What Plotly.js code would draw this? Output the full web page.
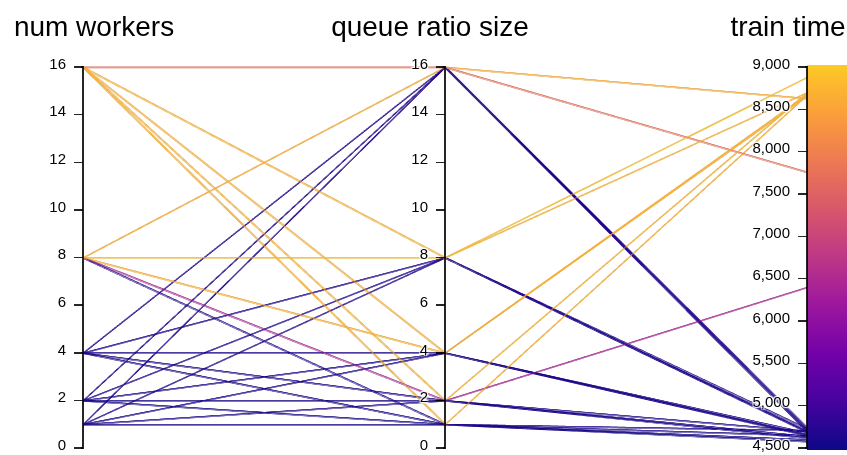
<!DOCTYPE html>
<html>
<head>
<meta charset="utf-8">
<script src="https://cdn.plot.ly/plotly-3.0.1.min.js"></script>
<style>
html, body { margin: 0; padding: 0; overflow: hidden; background: #fff; }
#chart { width: 847px; height: 455px; }
#chart .gl-canvas-focus, #chart .gl-canvas-context { filter: url(#thicken); }
</style>
</head>
<body>
<svg width="0" height="0" style="position:absolute">
  <filter id="thicken" x="0" y="0" width="100%" height="100%" color-interpolation-filters="sRGB">
    <feOffset in="SourceGraphic" dx="1" dy="0" result="a"/>
    <feOffset in="SourceGraphic" dx="0" dy="1" result="b"/>
    <feMerge>
      <feMergeNode in="a"/>
      <feMergeNode in="b"/>
      <feMergeNode in="SourceGraphic"/>
    </feMerge>
  </filter>
</svg>
<div id="chart"></div>
<script>
// data
const numWorkers = [16, 16, 16, 16, 16, 8, 8, 8, 8, 8, 4, 4, 4, 4, 4, 2, 2, 2, 2, 2, 1, 1, 1, 1, 1];
const queueRatio = [16, 8, 4, 2, 1, 16, 8, 4, 2, 1, 16, 8, 4, 2, 1, 16, 8, 4, 2, 1, 16, 8, 4, 2, 1];
const trainTime  = [7760, 8700, 8680, 8700, 8670, 8630, 8880, 8660, 6400, 4710,
                    4720, 4700, 4660, 4640, 4600, 4700, 4690, 4650, 4620, 4580,
                    4740, 4730, 4680, 4700, 4650];
const dimLabels = ['num workers', 'queue ratio size', 'train time'];

// plasma (first nine stops)
const plasmaColors = ['#0d0887', '#46039f', '#7201a8', '#9c179e', '#bd3786',
                      '#d8576b', '#ed7953', '#fb9f3a', '#fdca26'];
const colorscale = plasmaColors.map((c, i) => [i / (plasmaColors.length - 1), c]);

const fontFam = 'Liberation Sans, Arial, sans-serif';

const trace = {
  type: 'parcoords',
  line: {
    color: trainTime,
    colorscale: colorscale,
    cmin: 4500,
    cmax: 9000,
    showscale: true,
    colorbar: {
      x: 1, xanchor: 'left', xpad: 0,
      y: 0.5, yanchor: 'middle', ypad: 0,
      len: 1, thickness: 60, outlinewidth: 0,
      tickfont: {size: 15, color: '#000'}
    }
  },
  dimensions: [
    {label: dimLabels[0], values: numWorkers, range: [0, 16]},
    {label: dimLabels[1], values: queueRatio, range: [0, 16]},
    {label: dimLabels[2], values: trainTime, range: [4500, 9000], tickformat: ','}
  ],
  labelfont: {size: 28, color: '#000', family: fontFam},
  tickfont: {size: 15, color: '#000', family: fontFam},
  rangefont: {size: 1, color: 'rgba(0,0,0,0)'}
};

const layout = {
  width: 847,
  height: 455,
  margin: {l: 83, r: 40, t: 65, b: 5, autoexpand: false},
  paper_bgcolor: '#fff',
  plot_bgcolor: '#fff',
  font: {family: fontFam, color: '#000'}
};

// horizontal nudges of the axis titles, as in the reference
const titleShift = {'num workers': 11, 'queue ratio size': -15, 'train time': -19};

function styleAxes() {
  const gd = document.getElementById('chart');
  gd.querySelectorAll('.axis .domain').forEach(p => {
    p.setAttribute('stroke', '#000');
    p.setAttribute('stroke-opacity', '0.85');
    p.setAttribute('stroke-width', '2px');
  });
  gd.querySelectorAll('.axis .tick line').forEach(l => {
    l.setAttribute('stroke', '#000');
    l.setAttribute('stroke-opacity', '0.85');
    l.setAttribute('stroke-width', '1.5px');
    l.setAttribute('x2', '-9');
  });
  gd.querySelectorAll('.axis .tick text').forEach(t => {
    t.setAttribute('x', '-17');
    t.setAttribute('y', '-3');
  });
  gd.querySelectorAll('.axis-title').forEach(t => {
    const dx = titleShift[t.textContent.trim()];
    if (dx === undefined || t.dataset.shifted) return;
    const tr = t.getAttribute('transform') || '';
    t.setAttribute('transform', 'translate(' + dx + ',-1) ' + tr);
    t.dataset.shifted = '1';
  });
}

Plotly.newPlot('chart', [trace], layout, {displayModeBar: false}).then(() => {
  styleAxes();
  setTimeout(styleAxes, 50);
});
</script>
</body>
</html>
